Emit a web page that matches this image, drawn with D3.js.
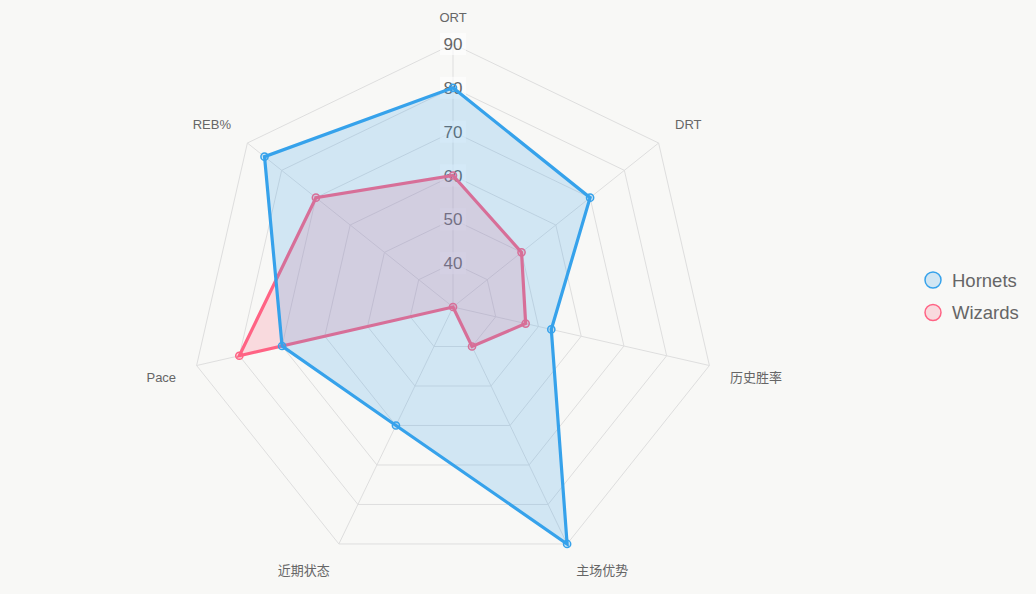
<!DOCTYPE html>
<html><head><meta charset="utf-8">
<script src="https://cdn.jsdelivr.net/npm/d3@7"></script>
<style>
html,body{margin:0;padding:0;background:#f8f8f6;}
svg{display:block;}
text{font-family:"Liberation Sans",Arial,"Noto Sans CJK SC",sans-serif;}
</style></head>
<body><svg id="c" width="1036" height="594"></svg>
<script>
const axes = ["ORT","DRT","历史胜率","主场优势","近期状态","Pace","REB%"];
const hornets = [80, 70, 53, 90, 60, 70, 85];
const wizards = [60, 50, 47, 40, 30, 80, 70];
const tickValues = [40, 50, 60, 70, 80, 90];
const seriesNames = ["Hornets","Wizards"];
const seriesColors = ["#36a2eb","#ff6384"];
const seriesFills = ["rgba(54,162,235,0.2)","rgba(255,99,132,0.2)"];

const svg = d3.select("#c");
const cx = 453, cy = 307, R = 263;
const r = d3.scaleLinear().domain([30, 90]).range([0, R]);
const n = axes.length;
const ang = i => 2 * Math.PI * i / n;
const pt = (i, rad) => [cx + rad * Math.sin(ang(i)), cy - rad * Math.cos(ang(i))];

const g = svg.append("g");
tickValues.forEach(v => {
  const pts = d3.range(n).map(i => pt(i, r(v)));
  g.append("polygon").attr("points", pts.map(p => p.join(",")).join(" "))
    .attr("fill", "none").attr("stroke", "#dedede").attr("stroke-width", 1);
});
d3.range(n).forEach(i => {
  const p = pt(i, R);
  g.append("line").attr("x1", cx).attr("y1", cy).attr("x2", p[0]).attr("y2", p[1])
    .attr("stroke", "#dedede").attr("stroke-width", 1);
});
tickValues.forEach(v => {
  const y = cy - r(v);
  g.append("rect").attr("x", cx - 13).attr("y", y - 11).attr("width", 26).attr("height", 22)
    .attr("fill", "rgba(255,255,255,0.6)");
  g.append("text").attr("x", cx).attr("y", y).attr("dy", "0.36em")
    .attr("text-anchor", "middle").attr("font-size", 17).attr("fill", "#666").text(v);
});
axes.forEach((a, i) => {
  const deg = 360 * i / n;
  const p = pt(i, R + 21);
  let anchor = "middle";
  if (deg > 0.5 && deg < 179.5) anchor = "start";
  else if (deg > 180.5) anchor = "end";
  let dy;
  if (deg > 270 || deg < 90) dy = "-0.1em";
  else dy = "0.9em";
  g.append("text").attr("x", p[0]).attr("y", p[1]).attr("dy", dy)
    .attr("text-anchor", anchor).attr("font-size", 13).attr("fill", "#666").text(a);
});
const data = [hornets, wizards];
const line = d3.line().curve(d3.curveLinearClosed);
[1, 0].forEach(s => {
  const pts = data[s].map((v, i) => pt(i, r(v)));
  const dg = svg.append("g");
  dg.append("path").attr("d", line(pts)).attr("fill", seriesFills[s])
    .attr("stroke", seriesColors[s]).attr("stroke-width", 3.2).attr("stroke-linejoin", "miter");
  dg.selectAll("circle").data(pts).join("circle")
    .attr("cx", d => d[0]).attr("cy", d => d[1]).attr("r", 3.6)
    .attr("fill", seriesFills[s]).attr("stroke", seriesColors[s]).attr("stroke-width", 1.5);
});
seriesNames.forEach((name, s) => {
  const y = 280 + s * 32.5;
  svg.append("circle").attr("cx", 933).attr("cy", y).attr("r", 8)
    .attr("fill", seriesFills[s]).attr("stroke", seriesColors[s]).attr("stroke-width", 1.5);
  svg.append("text").attr("x", 952).attr("y", y).attr("dy", "0.36em")
    .attr("font-size", 18.5).attr("fill", "#666").text(name);
});
</script></body></html>
